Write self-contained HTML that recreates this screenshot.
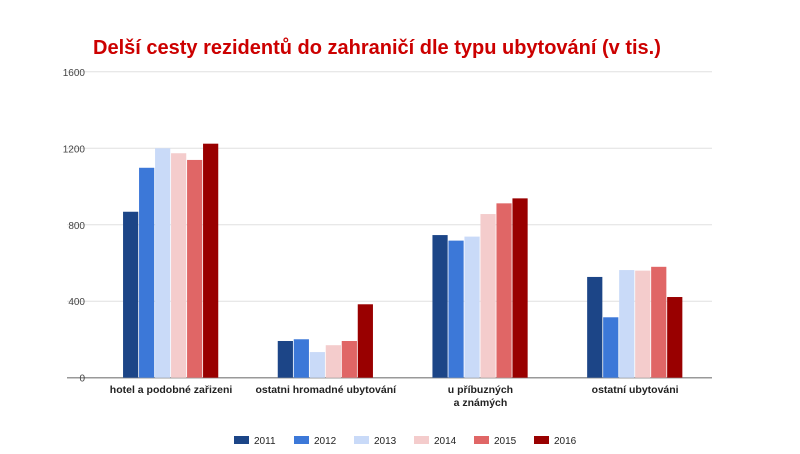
<!DOCTYPE html>
<html><head><meta charset="utf-8"><style>
body{margin:0;background:#fff;width:800px;height:449px;overflow:hidden;font-family:"Liberation Sans",sans-serif}
</style></head><body>
<svg id="chart" width="800" height="449" xmlns="http://www.w3.org/2000/svg" font-family="Liberation Sans, sans-serif">
<text x="93" y="54" font-size="20" font-weight="bold" fill="#cc0000">Delší cesty rezidentů do zahraničí dle typu ubytování (v tis.)</text>
<g id="grid"></g><g id="bars"></g><g id="labels"></g><g id="legend"></g>
</svg>
<script>
const categories = [["hotel a podobné zařizeni"],["ostatni hromadné ubytování"],["u příbuzných","a známých"],["ostatní ubytováni"]];
const seriesNames = ["2011","2012","2013","2014","2015","2016"];
const s2011 = [868,192,746,527];
const s2012 = [1098,201,717,316];
const s2013 = [1200,134,738,563];
const s2014 = [1174,170,856,560];
const s2015 = [1139,192,912,580];
const s2016 = [1224,384,938,422];
const yTicks = [0,400,800,1200,1600];
const series = [s2011,s2012,s2013,s2014,s2015,s2016];
const colors = ["#1c4587","#3c78d8","#c9daf8","#f4cccc","#e06666","#990000"];
const NS="http://www.w3.org/2000/svg";
const y0=377.7, yMax=1600, yTop=71.8, left=93.7, right=712.5;
const y = v => y0-(v/yMax)*(y0-yTop);
const step=(right-left)/categories.length;
const x = i => left+step*i+step/2;
function mk(tag,attrs,parent){const e=document.createElementNS(NS,tag);for(const k in attrs)e.setAttribute(k,attrs[k]);parent.appendChild(e);return e;}
const grid=document.getElementById('grid');
yTicks.forEach(t=>{
  const l=mk('line',{x1:67,x2:712,y1:y(t),y2:y(t),stroke:t===0?'#999':'#e0e0e0','stroke-width':t===0?1.5:1},grid);
  
  
  const tx=mk('text',{x:85,y:y(t)+4,'text-anchor':'end','font-size':10,fill:'#444'},grid);
  tx.textContent=t;
  
  
});
const bars=document.getElementById('bars');
const bw=15.2, bstep=16;
categories.forEach((c,i)=>{
  const start=x(i)-bstep*series.length/2;
  series.forEach((s,j)=>{
    const r=mk('rect',{x:start+j*bstep,y:y(s[i]),width:bw,height:y0-y(s[i]),fill:colors[j]},bars);
    
    
  });
  c.forEach((line,k)=>{
    const t=mk('text',{x:x(i),y:393+k*13,'text-anchor':'middle','font-size':10.5,'font-weight':'bold',fill:'#222'},document.getElementById('labels'));
    t.textContent=line;
    
    
  });
});
const lg=document.getElementById('legend');
const lx=[234,294,354,414,474,534];
seriesNames.forEach((n,j)=>{
  const g=mk('g',{},lg);
  
  
  mk('rect',{x:lx[j],y:436,width:15,height:8,fill:colors[j]},g);
  const t=mk('text',{x:lx[j]+20,y:444,'font-size':10,fill:'#222'},g);
  t.textContent=n;
});
</script>
</body></html>
